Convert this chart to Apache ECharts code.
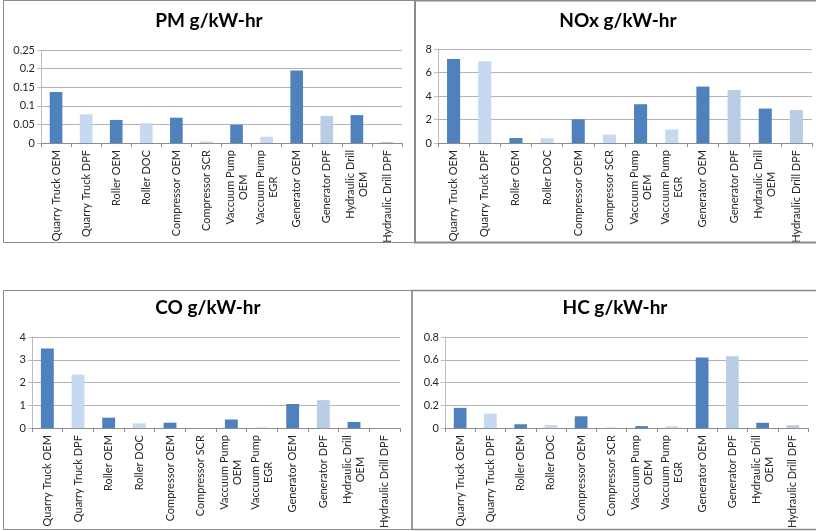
<!DOCTYPE html>
<html>
<head>
<meta charset="utf-8">
<script src="https://cdn.jsdelivr.net/npm/echarts@6/dist/echarts.min.js"></script>
<style>
  html, body { margin: 0; padding: 0; background: #fff; }
  #chart { width: 816px; height: 531px; }
</style>
</head>
<body>
<div id="chart"></div>
<script>
// ---- Data ----
var categories = [
  'Quarry Truck OEM', 'Quarry Truck DPF', 'Roller OEM', 'Roller DOC',
  'Compressor OEM', 'Compressor SCR', 'Vaccuum Pump\nOEM', 'Vaccuum Pump\nEGR',
  'Generator OEM', 'Generator DPF', 'Hydraulic Drill\nOEM', 'Hydraulic Drill DPF'
];
var pmValues  = [0.137, 0.077, 0.062, 0.053, 0.068, 0.004, 0.049, 0.017, 0.195, 0.073, 0.075, 0.003];
var noxValues = [7.15, 6.95, 0.42, 0.40, 2.02, 0.72, 3.30, 1.15, 4.80, 4.52, 2.93, 2.80];
var coValues  = [3.50, 2.35, 0.46, 0.21, 0.24, 0.01, 0.38, 0.03, 1.06, 1.23, 0.27, 0.005];
var hcValues  = [0.178, 0.127, 0.034, 0.028, 0.104, 0.006, 0.018, 0.016, 0.620, 0.632, 0.047, 0.026];

var titles = ['PM g/kW-hr', 'NOx g/kW-hr', 'CO g/kW-hr', 'HC g/kW-hr'];
var yMax = [0.25, 8, 4, 0.8];
var yInterval = [0.05, 2, 1, 0.2];

// ---- Styles ----
var DARK = '#4F81BD', LIGHT = '#C6D9F1', MID = '#B9CDE5';
var barColors = [DARK, LIGHT, DARK, LIGHT, DARK, LIGHT, DARK, LIGHT, DARK, MID, DARK, MID];
var FONT = 'Lato';
var TXT = '#262626';

var grids = [
  { left: 41, top: 50, width: 361, height: 93 },
  { left: 438, top: 49, width: 374, height: 94 },
  { left: 32, top: 337, width: 368, height: 94 },
  { left: 445, top: 337, width: 363, height: 94 }
];
var titlePos = [[209, 11], [618, 11], [208, 298], [615, 298]];
var allValues = [pmValues, noxValues, coValues, hcValues];

var option = {
  animation: false,
  backgroundColor: '#fff',
  title: titles.map(function (t, i) {
    return {
      text: t, left: titlePos[i][0], top: titlePos[i][1], textAlign: 'center', padding: 0,
      textStyle: { fontFamily: FONT, fontWeight: 'bold', fontSize: 19, color: '#000' }
    };
  }),
  grid: grids,
  xAxis: grids.map(function (g, i) {
    return {
      type: 'category', gridIndex: i, data: categories,
      axisLine: { lineStyle: { color: '#8c8c8c', width: 1 } },
      axisTick: { show: true, length: 4, lineStyle: { color: '#8c8c8c' } },
      axisLabel: {
        rotate: 90, margin: 7, interval: 0,
        fontFamily: FONT, fontSize: 11, color: TXT, lineHeight: 13,
        formatter: function (v) {
          return v.split('\n').map(function (s) { return '{c|' + s + '}'; }).join('\n');
        },
        rich: { c: { align: 'center', fontFamily: FONT, fontSize: 11, color: TXT, lineHeight: 13 } }
      }
    };
  }),
  yAxis: grids.map(function (g, i) {
    return {
      type: 'value', gridIndex: i, min: 0, max: yMax[i], interval: yInterval[i],
      axisLine: { show: true, lineStyle: { color: '#bdbdbd' } },
      axisTick: { show: true, length: 4, lineStyle: { color: '#bdbdbd' } },
      splitLine: { lineStyle: { color: '#b3b3b3', width: 1 } },
      axisLabel: { fontFamily: FONT, fontSize: 11, color: TXT, margin: 6 }
    };
  }),
  series: allValues.map(function (vals, i) {
    return {
      type: 'bar', xAxisIndex: i, yAxisIndex: i, barWidth: '42%',
      data: vals.map(function (v, k) { return { value: v, itemStyle: { color: barColors[k] } }; })
    };
  }),
  graphic: [
    { type: 'rect', silent: true, z: 100, shape: { x: 3.5, y: 0.5, width: 411, height: 242 },
      style: { fill: 'none', stroke: '#8a8a8a', lineWidth: 1 } },
    { type: 'rect', silent: true, z: 100, shape: { x: 415, y: 0.5, width: 410, height: 242 },
      style: { fill: 'none', stroke: '#8a8a8a', lineWidth: 2 } },
    { type: 'rect', silent: true, z: 100, shape: { x: 3.5, y: 290.5, width: 408.5, height: 239 },
      style: { fill: 'none', stroke: '#8a8a8a', lineWidth: 1 } },
    { type: 'rect', silent: true, z: 100, shape: { x: 412, y: 290.5, width: 410, height: 239 },
      style: { fill: 'none', stroke: '#8a8a8a', lineWidth: 1.5 } }
  ]
};

var chart = echarts.init(document.getElementById('chart'), null, { renderer: 'canvas' });
chart.setOption(option);
</script>
</body>
</html>
